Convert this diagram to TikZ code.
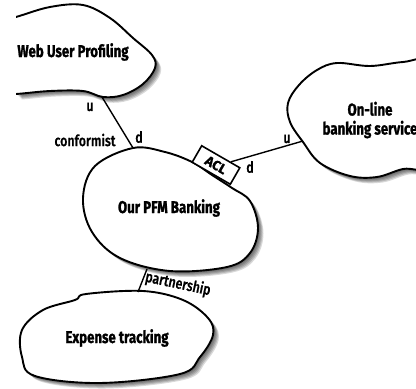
\documentclass[tikz,border=0pt]{standalone}
\usepackage{fontspec}
\usetikzlibrary{calc}
\newfontfamily\handb[FakeStretch=0.78, FakeBold=1.2]{Fira Sans Bold}
\newfontfamily\handc[FakeBold=1.2]{Fira Sans Bold}
\newfontfamily\handm[FakeStretch=0.8, FakeBold=0.6]{Fira Sans Medium}
\newcommand\pathWeb{plot[smooth cycle, tension=0.6] coordinates {(-10,24) (16,17) (50,7) (83,5) (110,18) (133,38) (152,55) (155,68) (143,84) (123,95) (103,97) (83,91) (50,91) (16,94) (-10,95)}}
\newcommand\pathOnl{plot[smooth cycle, tension=0.6] coordinates {(288,103) (299,85) (317,70) (337,63) (370,66) (403,62) (432,62) (445,110) (432,165) (403,169) (377,177) (350,176) (320,163) (303,142) (290,122)}}
\newcommand\pathPfm{plot[smooth cycle, tension=0.6] coordinates {(133,148) (165,152) (192,162) (212,175) (232,188) (250,201) (258,228) (250,253) (227,267) (170,271) (120,258) (92,232) (83,198) (95,166)}}
\newcommand\pathExp{plot[smooth cycle, tension=0.6] coordinates {(22,330) (43,310) (75,300) (86,294) (143,291) (183,300) (208,318) (213,335) (200,357) (180,374) (100,383) (35,376) (22,357)}}
\tikzset{
  cloudline/.style={draw=black, line width=1.9pt, fill=white},
  shadowlayer/.style={fill=black, opacity=0.15},
  conn/.style={draw=black, line width=1.4pt},
  title/.style={font=\handb\fontsize{17}{19}\selectfont, align=center, inner sep=0pt},
  lbl/.style={font=\handm\fontsize{15.5}{17}\selectfont, inner sep=0pt},
  aclbox/.style={draw=black, line width=1.6pt, fill=white, minimum width=44pt, minimum height=19pt, inner sep=0pt, rotate=-30, font=\handc\fontsize{13.5}{14}\selectfont}
}
\begin{document}
\begin{tikzpicture}[x=1pt, y=-1pt]
\useasboundingbox (0,0) rectangle (416,389);
\fill[white] (0,0) rectangle (416,389);
\clip (0,0) rectangle (416,389);
% shadows
\foreach \s in {1.5,2.5,3.5,4.5,5.5}{
  \begin{scope}[shift={(\s,\s)}]
    \begin{scope}
      \clip (16,0) rectangle (416,389);
      \fill[shadowlayer] \pathWeb;
    \end{scope}
    \fill[shadowlayer] \pathOnl;
    \fill[shadowlayer] \pathPfm;
    \fill[shadowlayer] \pathExp;
  \end{scope}
}
% clouds
\begin{scope}
  \clip (16,-5) rectangle (420,389);
  \path[cloudline] \pathWeb;
\end{scope}
\path[cloudline] \pathOnl;
\path[cloudline] \pathPfm;
\path[cloudline] \pathExp;
% titles
\node[title] (web) at (73,52) {Web User Profiling};
\node[title] (onl) at (370,120) {On-line\\banking service};
\node[title] (pfm) at (169,208) {Our PFM Banking};
\node[title] (exp) at (117,338) {Expense tracking};
% ACL
\node[aclbox] (acl) at (216,165) {ACL};
% attachment points
\coordinate (webB) at (102,97);
\coordinate (pfmT) at (133,148);
\coordinate (aclR) at ($(acl.north east)!0.25!(acl.north west)$);
\coordinate (onlL) at (303,141);
\coordinate (pfmB) at (147,269);
\coordinate (expT) at (138,292);
% connectors
\draw[conn] (webB) -- (pfmT);
\draw[conn] (aclR) -- (onlL);
\draw[conn] (pfmB) -- (expT);
% labels
\node[lbl] (u1) at (90,107) {u};
\node[lbl] (d1) at (139,137) {d};
\node[lbl] (conf) at (85,140) {conformist};
\node[lbl] (u2) at (287,139) {u};
\node[lbl] (d2) at (250,167) {d};
\node[lbl, rotate=-12] (part) at (178,284) {partnership};
\end{tikzpicture}
\end{document}
